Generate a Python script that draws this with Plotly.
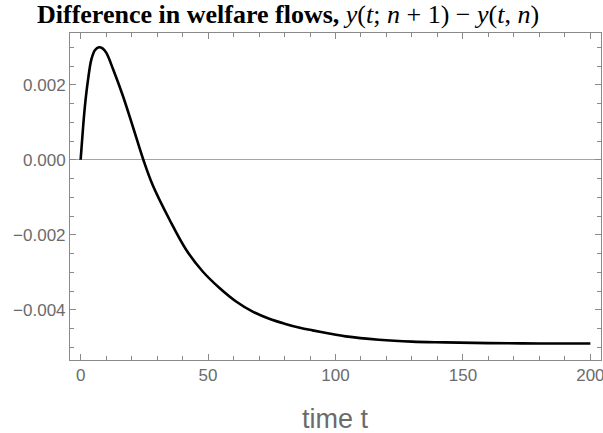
import plotly.graph_objects as go

# Data
t_values = [0, 1, 1.8, 2.9, 4.2, 5.6, 7.2, 8.6, 10.1, 12.7, 16.6, 20.5, 24.6, 28.3,
            34.9, 41.4, 47.9, 54.5, 61.0, 67.5, 74.0, 80, 86, 91, 98, 104, 117,
            130, 143, 160, 180, 200]
y_diff = [0, 0.0009, 0.00151, 0.00213, 0.00267, 0.00292, 0.00300, 0.00297, 0.00285,
          0.00242, 0.00170, 0.00088, 0.0, -0.00068, -0.00160, -0.00240, -0.00298,
          -0.00342, -0.00378, -0.00405, -0.00424, -0.00437, -0.00448, -0.00455,
          -0.00464, -0.00471, -0.00480, -0.00485, -0.00487, -0.00489, -0.00490, -0.00490]

x_title = "time t"
plot_title = ("<b>Difference in welfare flows,</b> <i>y</i>(<i>t</i>; <i>n</i> + 1)"
              " − <i>y</i>(<i>t</i>, <i>n</i>)")

frame_col = "#8a8a8a"
label_col = "#6b6b6b"

fig = go.Figure()
fig.add_trace(go.Scatter(x=t_values, y=y_diff, mode="lines",
                         line=dict(color="black", width=2.6, shape="spline", smoothing=1.0),
                         hoverinfo="skip", showlegend=False))

fig.update_layout(
    width=603, height=433,
    margin=dict(l=70, r=2, t=33, b=73),
    plot_bgcolor="white", paper_bgcolor="white",
    font=dict(family="Liberation Sans, Arial, sans-serif", color=label_col),
)
fig.update_xaxes(
    range=[-4.17, 204.17], tick0=0, dtick=50, ticks="inside", ticklen=6, tickwidth=1,
    tickcolor=frame_col, showline=True, linecolor=frame_col, linewidth=1, mirror="ticks",
    showgrid=False, zeroline=False, tickfont=dict(size=17, color=label_col), automargin=False,
    ticklabeloverflow="allow",
    minor=dict(dtick=10, tick0=0, ticks="inside", ticklen=4, tickcolor=frame_col, showgrid=False),
)
fig.update_yaxes(
    range=[-0.00534, 0.00338], tick0=0, dtick=0.002, tickformat=".3f", ticks="inside",
    ticklen=6, tickwidth=1, tickcolor=frame_col, showline=True, linecolor=frame_col,
    linewidth=1, mirror="ticks", showgrid=False, zeroline=True, zerolinecolor="#a5a5a5",
    zerolinewidth=1, tickfont=dict(size=17, color=label_col), automargin=False,
    minor=dict(dtick=0.0005, tick0=0, ticks="inside", ticklen=4, tickcolor=frame_col, showgrid=False),
)
fig.add_annotation(text=x_title, xref="paper", yref="paper", x=0.5, y=-0.180,
                   xanchor="center", yanchor="middle", showarrow=False,
                   font=dict(size=27, color=label_col, family="Liberation Sans, Arial, sans-serif"))
fig.add_annotation(text=plot_title, xref="paper", yref="paper", x=-0.066, y=1.057,
                   xanchor="left", yanchor="middle", showarrow=False,
                   font=dict(size=26, color="black", family="Liberation Serif, Times New Roman, serif"))

fig.write_html("out.html")
